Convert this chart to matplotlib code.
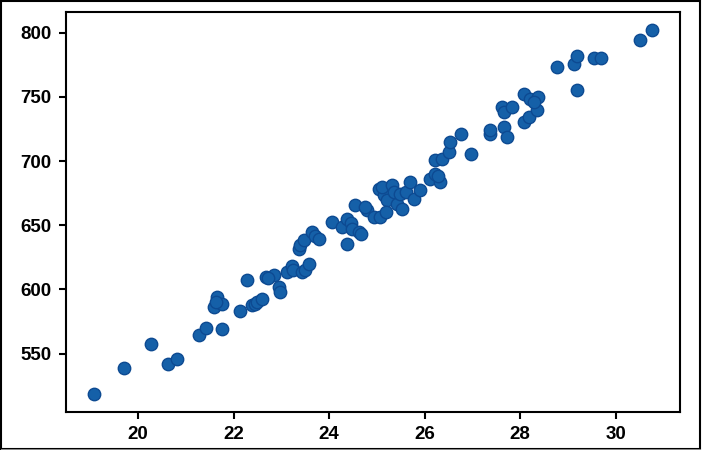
import matplotlib
matplotlib.use("Agg")
import matplotlib.pyplot as plt
from matplotlib.patches import Rectangle

# ================================ Data ================================ #

x_vals = [19.07, 19.70, 20.28, 20.62, 20.82, 21.27, 21.43, 21.75, 21.59, 21.66,
          21.76, 21.63, 22.13, 22.28, 22.39, 22.45, 22.49, 22.60, 22.67, 22.84,
          22.73, 22.95, 22.98, 23.12, 23.22, 23.25, 23.43, 23.36, 23.40, 23.47,
          23.50, 23.57, 23.64, 23.70, 23.78, 24.06, 24.27, 24.38, 24.45, 24.38,
          24.48, 24.55, 24.62, 24.66, 24.79, 24.76, 24.93, 25.07, 25.04, 25.14,
          25.10, 25.21, 25.32, 25.35, 25.42, 25.53, 25.49, 25.20, 25.60, 25.70,
          25.77, 25.91, 26.12, 26.22, 26.33, 26.28, 26.22, 26.36, 26.50, 26.54,
          26.75, 26.96, 27.37, 27.37, 27.65, 27.72, 27.62, 27.65, 27.83, 28.07,
          28.18, 28.35, 28.07, 28.21, 28.38, 28.28, 28.77, 29.12, 29.19, 29.19,
          29.54, 29.68, 30.51, 30.76]
y_vals = [518.8, 539.1, 557.5, 541.7, 546.1, 564.8, 570.2, 569.2, 586.3, 594.0,
          588.9, 590.5, 583.5, 607.6, 587.6, 589.0, 590.2, 592.8, 609.7, 611.0,
          609.0, 601.9, 598.0, 613.5, 618.0, 614.8, 613.6, 631.8, 634.3, 638.2,
          614.9, 620.0, 644.7, 642.0, 639.6, 652.5, 648.6, 655.1, 652.0, 635.7,
          647.4, 665.5, 644.7, 643.0, 661.6, 664.2, 656.4, 656.4, 678.5, 673.3,
          680.0, 669.4, 681.1, 675.9, 666.8, 662.9, 674.6, 660.0, 676.0, 683.7,
          670.7, 677.2, 686.3, 690.2, 683.7, 688.0, 700.5, 701.9, 707.0, 714.8,
          721.0, 705.8, 721.3, 724.0, 726.5, 718.7, 742.0, 738.0, 742.0, 730.4,
          734.3, 739.5, 752.5, 748.6, 749.9, 746.0, 773.2, 775.8, 781.5, 755.6,
          780.5, 780.5, 794.5, 801.8]

# ================================ Plot ================================ #

plt.rcParams['font.family'] = ['Liberation Sans', 'DejaVu Sans']
plt.rcParams['font.weight'] = 'bold'

fig = plt.figure(figsize=(7.02, 4.5), dpi=100)
ax = fig.add_axes([0.0936, 0.0844, 0.8751, 0.8889])

ax.scatter(x_vals, y_vals, s=80, color='#1560a8', edgecolors='#0d4a92',
           linewidths=1.0, zorder=3)

ax.set_xticks([20, 22, 24, 26, 28, 30])
ax.set_yticks([550, 600, 650, 700, 750, 800])
ax.tick_params(labelsize=13.5, width=1.5, length=5, pad=5)
for lbl in ax.get_xticklabels() + ax.get_yticklabels():
    lbl.set_fontweight('bold')
for sp in ax.spines.values():
    sp.set_linewidth(1.5)
    sp.set_color('black')

# outer frame round the picture
fig.patches.append(Rectangle((0.001, 0.003), 0.996, 0.995, transform=fig.transFigure,
                             fill=False, edgecolor='black', linewidth=1.5))
fig.patches.append(Rectangle((0.002, 0.001), 0.997, 0.001, transform=fig.transFigure,
                             fill=True, color='#888888', linewidth=0))

fig.savefig("out.png", dpi=100)
